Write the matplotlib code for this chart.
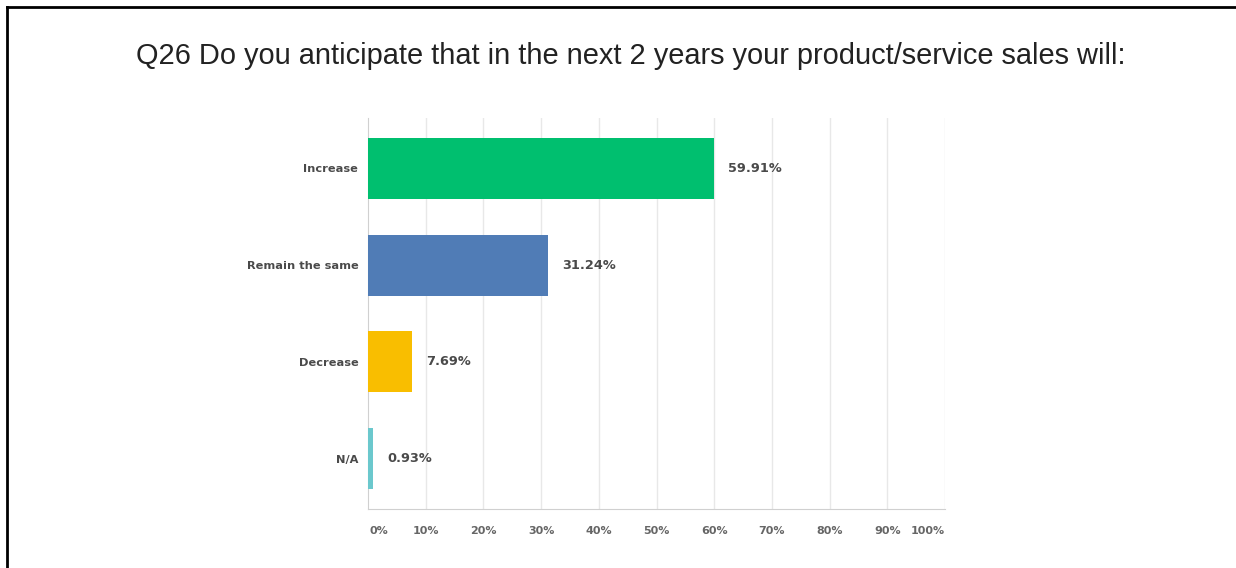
import matplotlib.pyplot as plt
from matplotlib.lines import Line2D

title = "Q26 Do you anticipate that in the next 2 years your product/service sales will:"
categories = ["Increase", "Remain the same", "Decrease", "N/A"]
values = [59.91, 31.24, 7.69, 0.93]
colors = ["#00bf6f", "#507cb6", "#f9be00", "#6bc8cd"]
ticks = [0, 10, 20, 30, 40, 50, 60, 70, 80, 90, 100]

W, H = 1236, 568
fig = plt.figure(figsize=(W / 100, H / 100), dpi=100)
fig.patch.set_facecolor("white")

# plot box in pixels: x 368..945, y 118..509
ax = fig.add_axes([368 / W, 1 - 509 / H, (945 - 368) / W, (509 - 118) / H])
y = list(range(len(categories)))
ax.barh(y, values, height=0.63, color=colors, zorder=3)
ax.set_ylim(3.52, -0.52)
ax.set_xlim(0, 100)

for v in ticks[1:]:
    ax.axvline(v, color="#e8e8e8", lw=1, zorder=1)
for s in ["top", "right"]:
    ax.spines[s].set_visible(False)
ax.spines["left"].set_color("#d0d0d0")
ax.spines["bottom"].set_color("#d0d0d0")

ax.set_yticks(y)
ax.set_yticklabels(categories, fontsize=8.2, fontweight="bold", color="#4a4a4a",
                   family="DejaVu Sans")
ax.tick_params(axis="y", length=0, pad=7)
ax.set_xticks([])
for t in ticks:
    ha = "left" if t == 0 else ("right" if t == 100 else "center")
    ax.annotate(f"{t}%", xy=(t, 0), xycoords=("data", "axes fraction"),
                xytext=(1 if t == 0 else 0, -22), textcoords="offset pixels",
                ha=ha, va="center", fontsize=8, fontweight="bold", color="#666666",
                family="DejaVu Sans")

for yi, v in zip(y, values):
    ax.annotate(f"{v:.2f}%", xy=(v, yi), xytext=(14, 0), textcoords="offset pixels",
                ha="left", va="center", fontsize=9.3, fontweight="bold", color="#4a4a4a",
                family="DejaVu Sans")

fig.text(631 / W, 1 - 56 / H, title, ha="center", va="center", fontsize=20.9,
         family="Liberation Sans", color="#222222")

# outer frame (top and left edges only visible)
fig.add_artist(Line2D([7 / W, 1], [1 - 7 / H, 1 - 7 / H], color="black", lw=2))
fig.add_artist(Line2D([7 / W, 7 / W], [0, 1 - 7 / H], color="black", lw=2))

fig.savefig("out.png", dpi=100, facecolor="white")
